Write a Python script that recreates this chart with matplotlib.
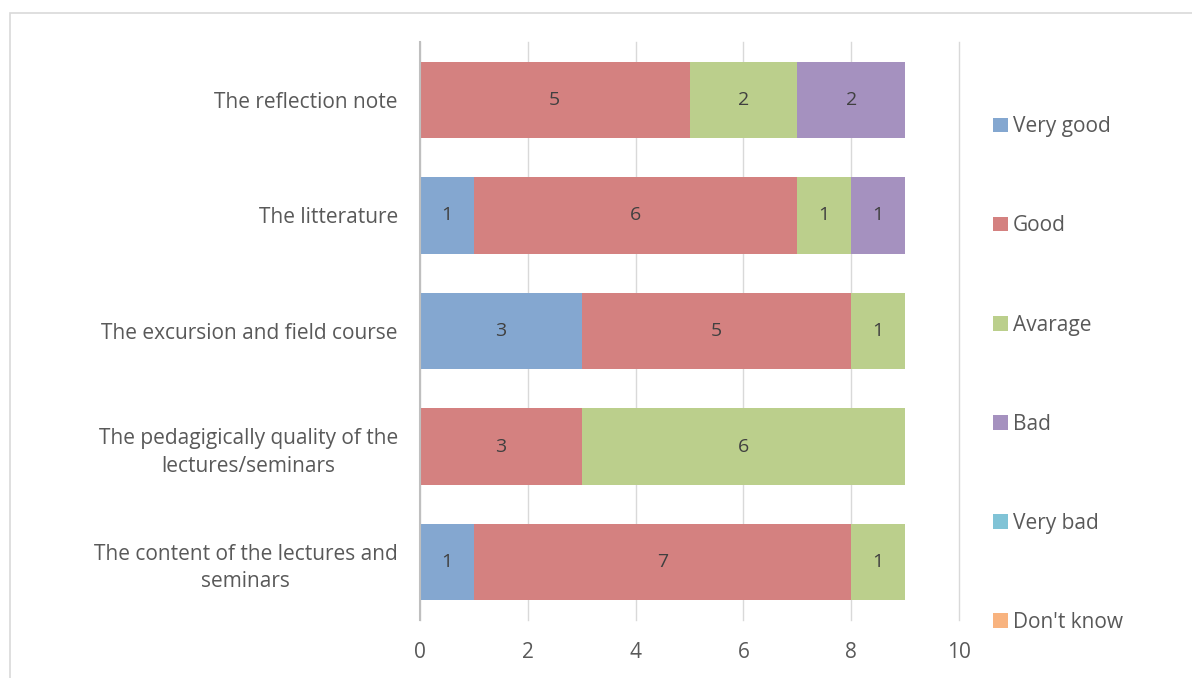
import matplotlib.pyplot as plt
from matplotlib.patches import Rectangle
import numpy as np

categories = ['The reflection note', 'The litterature', 'The excursion and field course',
              'The pedagigically quality of the\nlectures/seminars',
              'The content of the lectures and\nseminars']
series = ['Very good', 'Good', 'Avarage', 'Bad', 'Very bad', "Don't know"]
very_good = [0, 1, 3, 0, 1]
good = [5, 6, 5, 3, 7]
average = [2, 1, 1, 6, 1]
bad = [2, 1, 0, 0, 0]
very_bad = [0, 0, 0, 0, 0]
dont_know = [0, 0, 0, 0, 0]
colors = ['#84A7D0', '#D48180', '#BBCF8C', '#A591BF', '#80C3D6', '#F8B37F']

text_color = '#595959'
plt.rcParams['font.family'] = ['Open Sans', 'DejaVu Sans']

fig = plt.figure(figsize=(11.92, 6.78), dpi=100)
ax = fig.add_axes([420 / 1192, 1 - 620 / 678, 539 / 1192, 578 / 678])

# outer chart frame (cut off on the right and bottom)
fig.patches.append(Rectangle((10 / 1192, -0.1), 1.2, 1 - 13 / 678 + 0.1,
                             transform=fig.transFigure, fill=False,
                             edgecolor='#D9D9D9', linewidth=1.2))

y = np.arange(len(categories))
left = np.zeros(len(categories))
for name, vals, col in zip(series, [very_good, good, average, bad, very_bad, dont_know], colors):
    bars = ax.barh(y, vals, left=left, height=0.66, color=col, label=name, zorder=2)
    ax.bar_label(bars, labels=[str(v) if v else '' for v in vals], label_type='center',
                 color='#404040', fontsize=14)
    left += np.array(vals)

ax.set_ylim(len(categories) - 0.5, -0.5)
ax.set_xlim(0, 10)
ax.set_xticks(range(0, 11, 2))
ax.set_yticks(y)
ax.set_yticklabels(categories, multialignment='center', linespacing=1.4)
ax.tick_params(axis='both', length=0, labelsize=15, labelcolor=text_color)
ax.tick_params(axis='y', pad=16)
ax.tick_params(axis='x', pad=16)
ax.grid(axis='x', color='#D9D9D9', linewidth=1, zorder=0)
for gl in ax.get_xgridlines():
    gl.set_clip_on(False)
for s in ['top', 'right', 'bottom']:
    ax.spines[s].set_visible(False)
ax.spines['left'].set_color('#BFBFBF')
ax.spines['left'].set_linewidth(1.5)
ax.spines['left'].set_zorder(3)

leg = ax.legend(loc='upper left', bbox_to_anchor=(985 / 1192, 1 - 108 / 678),
                bbox_transform=fig.transFigure, frameon=False, fontsize=15,
                labelcolor=text_color, handlelength=0.7, handleheight=0.7,
                handletextpad=0.25, labelspacing=3.75, borderaxespad=0)

fig.savefig('out.png', dpi=100)
